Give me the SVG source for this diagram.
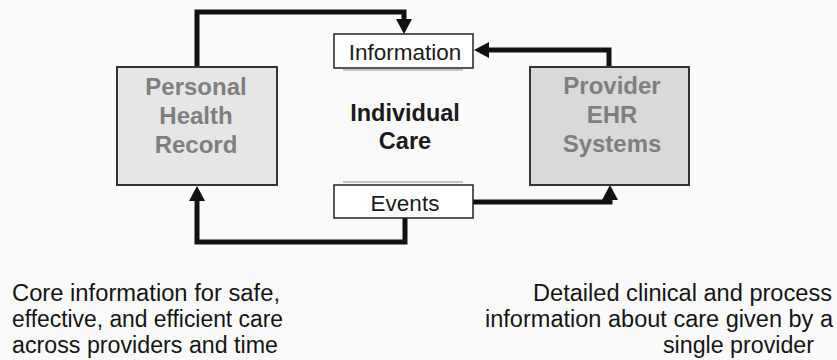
<svg xmlns="http://www.w3.org/2000/svg" width="837" height="360" viewBox="0 0 837 360">
  <defs>
    <marker id="arrow" markerUnits="userSpaceOnUse" markerWidth="16" markerHeight="17" refX="1" refY="8" orient="auto" viewBox="0 0 16 17">
      <path d="M0,0 L15,8 L0,16 Z" fill="#111"/>
    </marker>
    <style>
      .sys { stroke: #333; stroke-width: 2; }
      .sys-text { font-family: "Liberation Sans", Arial, sans-serif; font-weight: bold; font-size: 24px; fill: #7f7f7f; text-anchor: middle; }
      .lbl-box { fill: #ffffff; stroke: #222; stroke-width: 1.5; }
      .lbl-text { font-family: "Liberation Sans", Arial, sans-serif; font-size: 22.5px; fill: #1a1a1a; text-anchor: middle; }
      .core-text { font-family: "Liberation Sans", Arial, sans-serif; font-weight: bold; font-size: 23.5px; fill: #1a1a1a; text-anchor: middle; }
      .note { font-family: "Liberation Sans", Arial, sans-serif; font-size: 23.5px; fill: #151515; }
      .conn { fill: none; stroke: #111; stroke-width: 5; stroke-linejoin: miter; marker-end: url(#arrow); }
      .faint { fill: none; stroke: #c4c4c4; stroke-width: 2; }
    </style>
  </defs>
  <rect x="0" y="0" width="837" height="360" fill="#fafafa"/>

  <g id="connectors">
    <path class="conn" d="M197,67 V12 H404 V20"/>
    <path class="conn" d="M609,67 V50 H488"/>
    <path class="conn" d="M473,202 H610 V199"/>
    <path class="conn" d="M405,218 V242 H197 V200"/>
  </g>

  <g id="faint-marks">
    <path class="faint" d="M343,70 H463"/>
    <path class="faint" d="M343,182 H463"/>
  </g>

  <g id="personal-health-record">
    <rect class="sys" x="117" y="67" width="160" height="118" fill="#e6e6e6"/>
    <text class="sys-text" x="196" y="95">Personal</text>
    <text class="sys-text" x="196" y="124">Health</text>
    <text class="sys-text" x="196" y="153">Record</text>
  </g>

  <g id="provider-ehr">
    <rect class="sys" x="530" y="67" width="159" height="118" fill="#d9d9d9"/>
    <text class="sys-text" x="612" y="94">Provider</text>
    <text class="sys-text" x="612" y="123">EHR</text>
    <text class="sys-text" x="612" y="152">Systems</text>
  </g>

  <g id="information">
    <rect class="lbl-box" x="334" y="34" width="139" height="34"/>
    <text class="lbl-text" x="405" y="60">Information</text>
  </g>

  <g id="events">
    <rect class="lbl-box" x="334" y="185" width="139" height="33"/>
    <text class="lbl-text" x="405" y="211">Events</text>
  </g>

  <g id="individual-care">
    <text class="core-text" x="405" y="121">Individual</text>
    <text class="core-text" x="405" y="149">Care</text>
  </g>

  <g id="note-left">
    <text class="note" x="12" y="301" textLength="268" lengthAdjust="spacingAndGlyphs">Core information for safe,</text>
    <text class="note" x="12" y="327" textLength="271" lengthAdjust="spacingAndGlyphs">effective, and efficient care</text>
    <text class="note" x="12" y="353" textLength="266" lengthAdjust="spacingAndGlyphs">across providers and time</text>
  </g>

  <g id="note-right">
    <text class="note" x="533" y="301" textLength="299" lengthAdjust="spacingAndGlyphs">Detailed clinical and process</text>
    <text class="note" x="485" y="327" textLength="348" lengthAdjust="spacingAndGlyphs">information about care given by a</text>
    <text class="note" x="663" y="353" textLength="151" lengthAdjust="spacingAndGlyphs">single provider</text>
  </g>
</svg>
